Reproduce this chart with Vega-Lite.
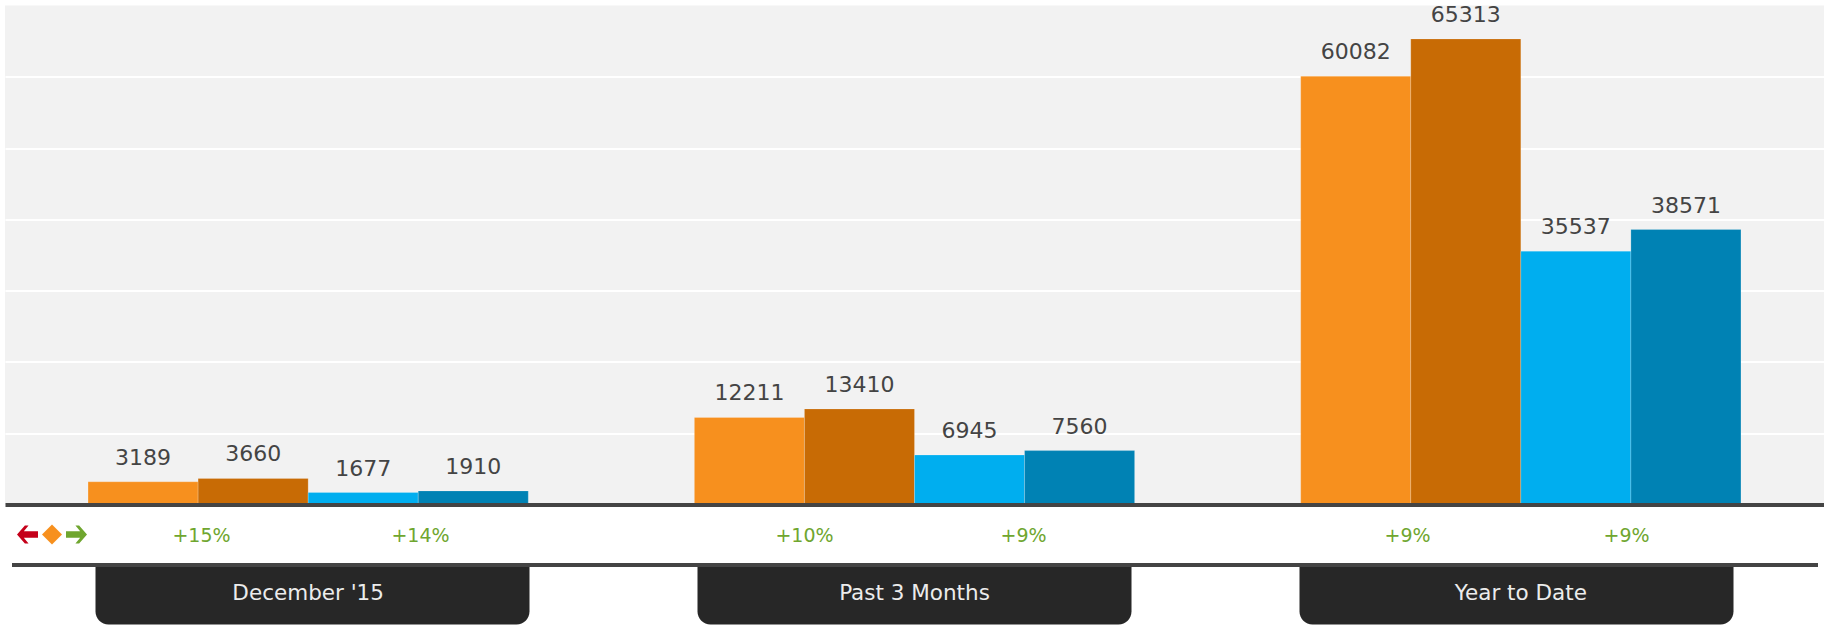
{
"$schema":"https://vega.github.io/schema/vega-lite/v6.json",
"width":1819,
"background":"#ffffff",
"padding":{"left":5,"top":3.5,"right":0,"bottom":0},
"autosize":{"type":"pad","contains":"content"},
"bounds":"flush",
"spacing":0,
"config":{"view":{"stroke":null},"text":{"font":"DejaVu Sans"},"concat":{"spacing":0}},
"resolve":{"scale":{"color":"independent","shape":"independent"}},
"datasets":{
"bars":[
{"period":"December '15","series":"Orange A","value":3189},
{"period":"December '15","series":"Orange B","value":3660},
{"period":"December '15","series":"Blue A","value":1677},
{"period":"December '15","series":"Blue B","value":1910},
{"period":"Past 3 Months","series":"Orange A","value":12211},
{"period":"Past 3 Months","series":"Orange B","value":13410},
{"period":"Past 3 Months","series":"Blue A","value":6945},
{"period":"Past 3 Months","series":"Blue B","value":7560},
{"period":"Year to Date","series":"Orange A","value":60082},
{"period":"Year to Date","series":"Orange B","value":65313},
{"period":"Year to Date","series":"Blue A","value":35537},
{"period":"Year to Date","series":"Blue B","value":38571}
],
"changes":[
{"period":"December '15","pair":"Orange","change":"+15%"},
{"period":"December '15","pair":"Blue","change":"+14%"},
{"period":"Past 3 Months","pair":"Orange","change":"+10%"},
{"period":"Past 3 Months","pair":"Blue","change":"+9%"},
{"period":"Year to Date","pair":"Orange","change":"+9%"},
{"period":"Year to Date","pair":"Blue","change":"+9%"}
],
"icons":[{"icon":"down"},{"icon":"flat"},{"icon":"up"}],
"periods":[{"period":"December '15"},{"period":"Past 3 Months"},{"period":"Year to Date"}]
},
"vconcat":[
{
"width":1819,"height":499,
"view":{"fill":"#f2f2f2","stroke":null},
"data":{"name":"bars"},
"encoding":{
"x":{"field":"period","type":"nominal","sort":null,"scale":{"paddingInner":0,"paddingOuter":0,"range":[0,1819]},
"axis":{"title":null,"labels":false,"ticks":false,"grid":false,"domain":true,"domainColor":"#444444","domainWidth":4,"zindex":2}},
"xOffset":{"field":"series","type":"nominal","sort":["Orange A","Orange B","Blue A","Blue B"],"scale":{"type":"band","domain":["Orange A","Orange B","Blue A","Blue B"],"paddingInner":0,"paddingOuter":0.7545}},
"y":{"field":"value","type":"quantitative","scale":{"domain":[0,70000],"nice":false},
"axis":{"title":null,"labels":false,"ticks":false,"domain":false,"values":[10000,20000,30000,40000,50000,60000],"grid":true,"gridColor":"#ffffff","gridWidth":2,"gridOpacity":1}}
},
"layer":[
{"mark":{"type":"bar","strokeWidth":1,"strokeOpacity":0.2,"stroke":"#ffffff"},
"encoding":{"color":{"field":"series","type":"nominal","legend":null,"scale":{"domain":["Orange A","Orange B","Blue A","Blue B"],"range":["#f7901e","#c86b05","#00aeef","#0082b4"]}}}},
{"mark":{"type":"text","baseline":"bottom","dy":-12,"fontSize":22,"font":"DejaVu Sans","color":"#444444","clip":false},
"encoding":{"text":{"field":"value","type":"quantitative","format":"d"}}}
]
},
{
"width":1819,"height":60,
"layer":[
{"data":{"name":"changes"},
"mark":{"type":"text","fontSize":19,"font":"DejaVu Sans","color":"#6fa62f","baseline":"middle","dy":1.5},
"encoding":{
"x":{"field":"period","type":"nominal","sort":null,"axis":null,"scale":{"type":"band","range":[4.5,1813.5],"paddingInner":0,"paddingOuter":0}},
"xOffset":{"field":"pair","type":"nominal","sort":["Orange","Blue"],"scale":{"type":"band","domain":["Orange","Blue"],"paddingInner":0,"paddingOuter":0.3767}},
"text":{"field":"change","type":"nominal"}
}},
{"data":{"name":"icons"},
"mark":{"type":"point","filled":true,"opacity":1,"size":441,"dy":1},
"encoding":{
"x":{"field":"icon","type":"nominal","axis":null,"scale":{"type":"point","padding":0,"domain":["down","flat","up"],"range":[22.5,71.5]}},
"shape":{"field":"icon","type":"nominal","legend":null,"scale":{"domain":["down","flat","up"],"range":[
"M-1 0L-0.25 -0.85L0.1 -0.85L-0.35 -0.3L1 -0.3L1 0.3L-0.35 0.3L0.1 0.85L-0.25 0.85Z",
"M0 -0.95L0.95 0L0 0.95L-0.95 0Z",
"M1 0L0.25 -0.85L-0.1 -0.85L0.35 -0.3L-1 -0.3L-1 0.3L0.35 0.3L-0.1 0.85L0.25 0.85Z"]}},
"color":{"field":"icon","type":"nominal","legend":null,"scale":{"domain":["down","flat","up"],"range":["#c5001a","#f7901e","#6fa62f"]}}
}}
],
"resolve":{"scale":{"x":"independent","xOffset":"independent","color":"independent","shape":"independent"}}
},
{
"width":1819,"height":60,
"data":{"name":"periods"},
"layer":[
{"mark":{"type":"bar","width":434,"color":"#272727","cornerRadiusBottomLeft":13,"cornerRadiusBottomRight":13},
"encoding":{"x":{"field":"period","type":"nominal","sort":null,"scale":{"type":"band","range":[6.5,1812.5],"paddingInner":0,"paddingOuter":0},
"axis":{"orient":"top","title":null,"labels":false,"ticks":false,"grid":false,"domain":true,"domainColor":"#444444","domainWidth":4,"zindex":2}}}},
{"mark":{"type":"text","fontSize":21.5,"font":"DejaVu Sans","color":"#ececec","baseline":"middle","dy":-1},
"encoding":{"x":{"field":"period","type":"nominal","sort":null,"axis":null,"scale":{"type":"band","range":[0,1819],"paddingInner":0,"paddingOuter":0}},
"text":{"field":"period","type":"nominal"}}}
],
"resolve":{"scale":{"x":"independent"}}
}
]
}
